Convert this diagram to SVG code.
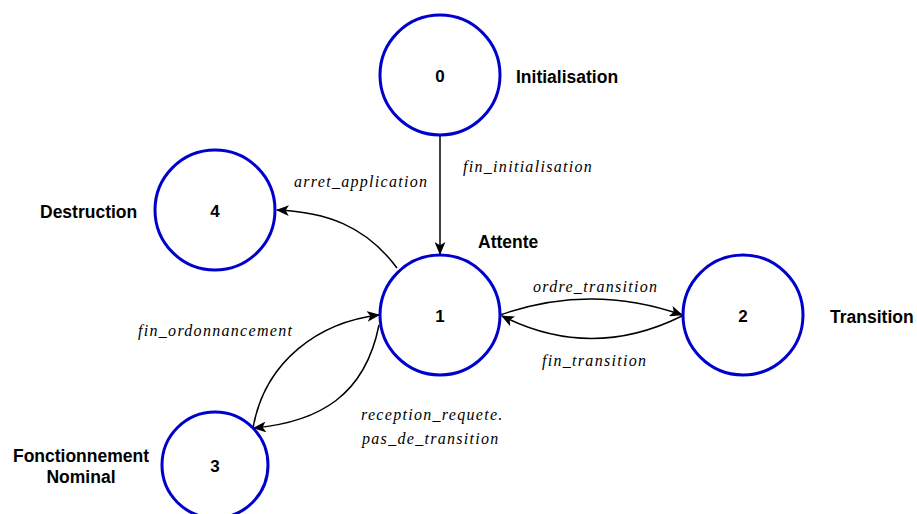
<svg xmlns="http://www.w3.org/2000/svg" width="917" height="514" viewBox="0 0 917 514">
<defs>
<style>
.st{fill:#fff;stroke:#0000CC;stroke-width:3}
.num{font-family:"Liberation Sans",Arial,sans-serif;font-weight:bold;font-size:17px;text-anchor:middle;fill:#000}
.lbl{font-family:"Liberation Sans",Arial,sans-serif;font-weight:bold;font-size:17.5px;fill:#000}
.ev{font-family:"Liberation Serif","Times New Roman",serif;font-style:italic;font-size:16px;letter-spacing:1.3px;fill:#000}
.cn{fill:none;stroke:#000;stroke-width:1.5}
</style>
<marker id="ah" viewBox="0 0 12 10" refX="11" refY="5" markerWidth="13" markerHeight="11" markerUnits="userSpaceOnUse" orient="auto">
<path d="M0,0 L12,5 L0,10 L3,5 Z" fill="#000"/>
</marker>
</defs>
<rect width="917" height="514" fill="#fff"/>
<g id="connectors">
<path class="cn" d="M440,135 L440,254" marker-end="url(#ah)"/>
<path class="cn" d="M397,268 C365,225 325,212 277,210" marker-end="url(#ah)"/>
<path class="cn" d="M500,315 Q591,283 682,315" marker-end="url(#ah)"/>
<path class="cn" d="M682,316 Q591,361 502,316" marker-end="url(#ah)"/>
<path class="cn" d="M253,428 C265,360 320,322 379,315" marker-end="url(#ah)"/>
<path class="cn" d="M379,325 C365,395 320,422 254,428" marker-end="url(#ah)"/>
<text class="ev" x="463" y="172">fin_initialisation</text>
<text class="ev" x="294" y="187">arret_application</text>
<text class="ev" x="533" y="292">ordre_transition</text>
<text class="ev" x="542" y="366">fin_transition</text>
<text class="ev" x="138" y="336">fin_ordonnancement</text>
<text class="ev" x="361" y="420">reception_requete.</text>
<text class="ev" x="362" y="444">pas_de_transition</text>
</g>
<g id="s0">
<circle class="st" cx="440" cy="75" r="60"/>
<text class="num" x="440" y="82">0</text>
<text class="lbl" x="516" y="83">Initialisation</text>
</g>
<g id="s1">
<circle class="st" cx="440" cy="315" r="60"/>
<text class="num" x="440" y="322">1</text>
<text class="lbl" x="478" y="248">Attente</text>
</g>
<g id="s2">
<circle class="st" cx="743" cy="315" r="60"/>
<text class="num" x="743" y="322">2</text>
<text class="lbl" x="830" y="323">Transition</text>
</g>
<g id="s3">
<circle class="st" cx="215" cy="465" r="53"/>
<text class="num" x="215" y="472">3</text>
<text class="lbl" x="81" y="462" text-anchor="middle">Fonctionnement</text>
<text class="lbl" x="81" y="483" text-anchor="middle">Nominal</text>
</g>
<g id="s4">
<circle class="st" cx="215" cy="210" r="60"/>
<text class="num" x="215" y="217">4</text>
<text class="lbl" x="40" y="218">Destruction</text>
</g>
</svg>
